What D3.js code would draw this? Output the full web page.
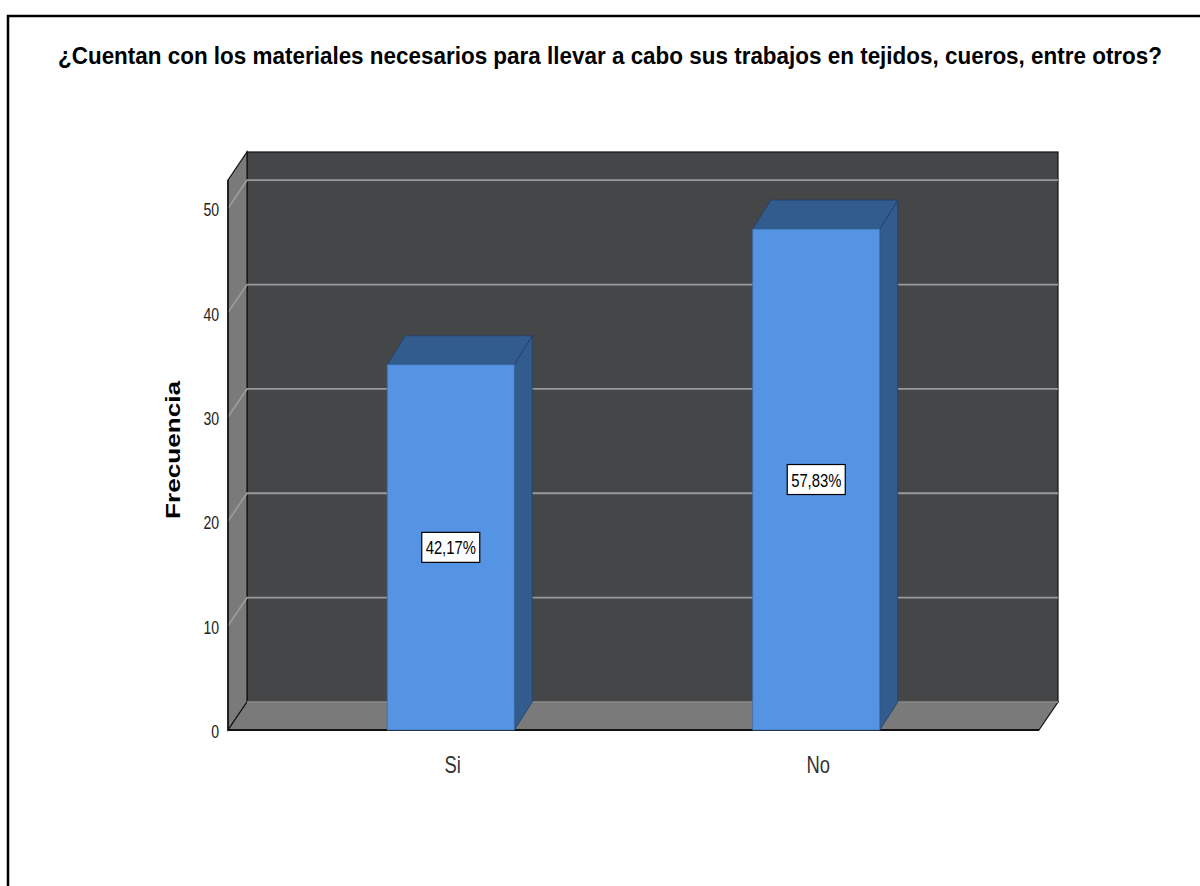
<!DOCTYPE html>
<html><head><meta charset="utf-8">
<script src="https://cdn.jsdelivr.net/npm/d3@7"></script>
<style>body{margin:0;background:#fff}svg{display:block}</style>
</head><body>
<script>
const title = "¿Cuentan con los materiales necesarios para llevar a cabo sus trabajos en tejidos, cueros, entre otros?";
const categories = ["Si", "No"];
const frequencies = [35, 48];
const percentLabels = ["42,17%", "57,83%"];
const yTicks = [0, 10, 20, 30, 40, 50];
const yLabel = "Frecuencia";

const W = 1200, H = 886;
const FONT = "Liberation Sans, Arial, sans-serif";
const svg = d3.select("body").append("svg").attr("width", W).attr("height", H);

// frame
svg.append("path").attr("d", `M8,${H} L8,16 L${W},16`).attr("fill","none").attr("stroke","#000").attr("stroke-width",2.5);

svg.append("text").attr("x", 610).attr("y", 64).attr("text-anchor","middle")
  .attr("font-family", FONT).attr("font-weight","bold")
  .attr("font-size", 23).attr("textLength", 1104).attr("lengthAdjust","spacingAndGlyphs")
  .attr("fill","#000").text(title);

const x0 = 228, x1 = 1039, yBase = 730;
const dx = 19, dy = -28;
const y = d3.scaleLinear().domain([0, 52.7]).range([yBase, 180]);
const x = d3.scaleBand().domain(categories).range([x0, x1]).paddingInner(0.6525).paddingOuter(0.4357);

const wallC = "#454648", sideC = "#7a7a7a", gridC = "#9a9a9a";
const yTop = y.range()[1];

// back wall
svg.append("rect").attr("x", x0+dx).attr("y", yTop+dy).attr("width", x1-x0).attr("height", yBase-yTop)
  .attr("fill", wallC).attr("stroke","#111").attr("stroke-width",1.2);
// left side wall
svg.append("path").attr("d", `M${x0},${yTop} L${x0+dx},${yTop+dy} L${x0+dx},${yBase+dy} L${x0},${yBase} Z`)
  .attr("fill", sideC).attr("stroke","#111").attr("stroke-width",1.2);
// floor
svg.append("path").attr("d", `M${x0},${yBase} L${x0+dx},${yBase+dy} L${x1+dx},${yBase+dy} L${x1},${yBase} Z`)
  .attr("fill", sideC).attr("stroke","#111").attr("stroke-width",1.2);
svg.append("line").attr("x1", x0+dx).attr("x2", x1+dx).attr("y1", yBase+dy).attr("y2", yBase+dy)
  .attr("stroke", gridC).attr("stroke-width", 1.5);

// gridlines
yTicks.filter(t => t > 0).forEach(t => {
  svg.append("path").attr("d", `M${x0},${y(t)} L${x0+dx},${y(t)+dy} L${x1+dx},${y(t)+dy}`)
    .attr("fill","none").attr("stroke", gridC).attr("stroke-width", 1.8);
});
// front edges
svg.append("line").attr("x1", x0).attr("x2", x1).attr("y1", yBase).attr("y2", yBase).attr("stroke","#111").attr("stroke-width",2);
svg.append("line").attr("x1", x0).attr("x2", x0).attr("y1", yTop).attr("y2", yBase).attr("stroke","#111").attr("stroke-width",1.5);

// y axis tick labels (condensed look)
const yAxis = d3.axisLeft(y).tickValues(yTicks).tickSize(0).tickPadding(8);
const ga = svg.append("g").attr("transform", `translate(${x0},0)`).call(yAxis);
ga.select(".domain").remove();
ga.selectAll("text").attr("font-family", FONT).attr("font-size", 18).attr("fill","#222")
  .attr("x", 0).attr("dy","0.42em").attr("transform", "translate(-9,0) scale(0.78,1)");

svg.append("text").attr("transform", `translate(180,450) rotate(-90)`).attr("text-anchor","middle")
  .attr("font-family", FONT).attr("font-weight","bold")
  .attr("font-size", 20).attr("textLength", 138).attr("lengthAdjust","spacingAndGlyphs")
  .attr("fill","#000").text(yLabel);

// bars
const frontC = "#5594e2", darkC = "#335c8e";
const bdx = 18, bdy = -29;
const bars = svg.append("g");
categories.forEach((c, i) => {
  const bx = x(c), bw = x.bandwidth(), by = y(frequencies[i]);
  bars.append("path").attr("d", `M${bx+bw},${by} L${bx+bw+bdx},${by+bdy} L${bx+bw+bdx},${yBase+dy} L${bx+bw},${yBase} Z`)
    .attr("fill", darkC).attr("stroke","#223f66").attr("stroke-width",0.8);
  bars.append("path").attr("d", `M${bx},${by} L${bx+bdx},${by+bdy} L${bx+bw+bdx},${by+bdy} L${bx+bw},${by} Z`)
    .attr("fill", darkC).attr("stroke","#223f66").attr("stroke-width",0.8);
  bars.append("rect").attr("x", bx).attr("y", by).attr("width", bw).attr("height", yBase-by)
    .attr("fill", frontC).attr("stroke","#3d6fae").attr("stroke-width",0.8);
  const cx = bx + bw/2, cy = y(frequencies[i]/2);
  bars.append("rect").attr("x", cx-29).attr("y", cy-15).attr("width", 58).attr("height", 30)
    .attr("fill","#fff").attr("stroke","#000").attr("stroke-width",1.2);
  bars.append("text").attr("transform", `translate(${cx},${cy+7}) scale(0.78,1)`).attr("text-anchor","middle")
    .attr("font-family", FONT).attr("font-size",19)
    .attr("fill","#000").text(percentLabels[i]);
  svg.append("text").attr("transform", `translate(${cx+2},773) scale(0.8,1)`).attr("text-anchor","middle")
    .attr("font-family", FONT).attr("font-size",23)
    .attr("fill","#333").text(c);
});
</script>
</body></html>
